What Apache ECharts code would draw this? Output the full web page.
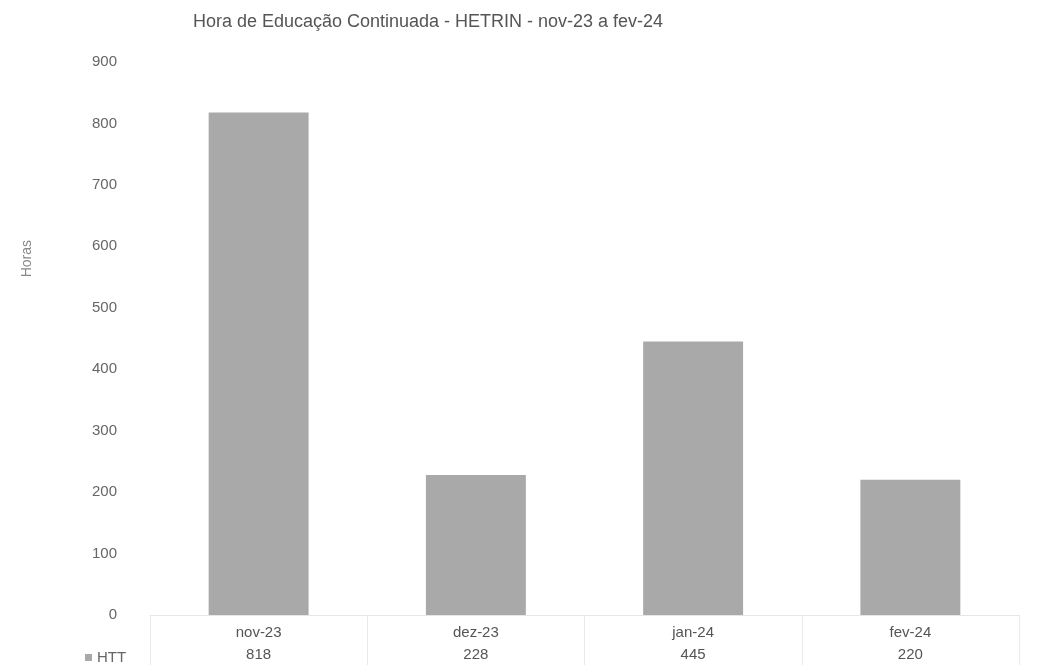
<!DOCTYPE html>
<html><head><meta charset="utf-8">
<script src="https://cdn.jsdelivr.net/npm/echarts@6/dist/echarts.min.js"></script>
<style>html,body{margin:0;padding:0;background:#fff}#c{width:1039px;height:666px}</style>
</head><body><div id="c"></div>
<script>
const categories = ['nov-23', 'dez-23', 'jan-24', 'fev-24'];
const htt = [818, 228, 445, 220];
const yTicks = [0, 100, 200, 300, 400, 500, 600, 700, 800, 900];

const chart = echarts.init(document.getElementById('c'));
const font = '"Liberation Sans", Arial, sans-serif';
chart.setOption({
  backgroundColor: '#fff',
  animation: false,
  textStyle: { fontFamily: font },
  title: {
    text: 'Hora de Educação Continuada - HETRIN - nov-23 a fev-24',
    left: 423, top: 8, textAlign: 'center',
    textStyle: { fontFamily: font, fontSize: 18, fontWeight: 'normal', color: '#555' }
  },
  legend: {
    data: ['HTT'], left: 80, top: 645, icon: 'rect', itemWidth: 7, itemHeight: 7, itemGap: 4,
    textStyle: { fontFamily: font, fontSize: 15, color: '#666' }
  },
  graphic: [{
    type: 'text', left: 20, top: 240, rotation: Math.PI / 2,
    style: { text: 'Horas', fontFamily: font, fontSize: 14, fill: '#888' }
  }],
  grid: { left: 150, right: 20, top: 62, bottom: 51 },
  xAxis: {
    type: 'category', data: categories, boundaryGap: true,
    axisLine: { show: true, lineStyle: { color: '#e6e6e6' } },
    axisTick: { show: true, length: 50, lineStyle: { color: '#eaeaea' } },
    axisLabel: {
      margin: 7, interval: 0,
      formatter: function (v, i) { return '{c|' + v + '}\n{v|' + htt[i] + '}'; },
      rich: {
        c: { fontFamily: font, fontSize: 15, color: '#555', lineHeight: 22 },
        v: { fontFamily: font, fontSize: 15, color: '#555', lineHeight: 22 }
      }
    }
  },
  yAxis: {
    type: 'value', min: yTicks[0], max: yTicks[yTicks.length - 1], interval: 100,
    axisLine: { show: false }, axisTick: { show: false },
    splitLine: { show: false },
    axisLabel: { margin: 33, fontFamily: font, fontSize: 15, color: '#666' }
  },
  series: [{
    name: 'HTT', type: 'bar', data: htt, barWidth: '46%',
    itemStyle: { color: '#a9a9a9' }
  }]
});
</script></body></html>
